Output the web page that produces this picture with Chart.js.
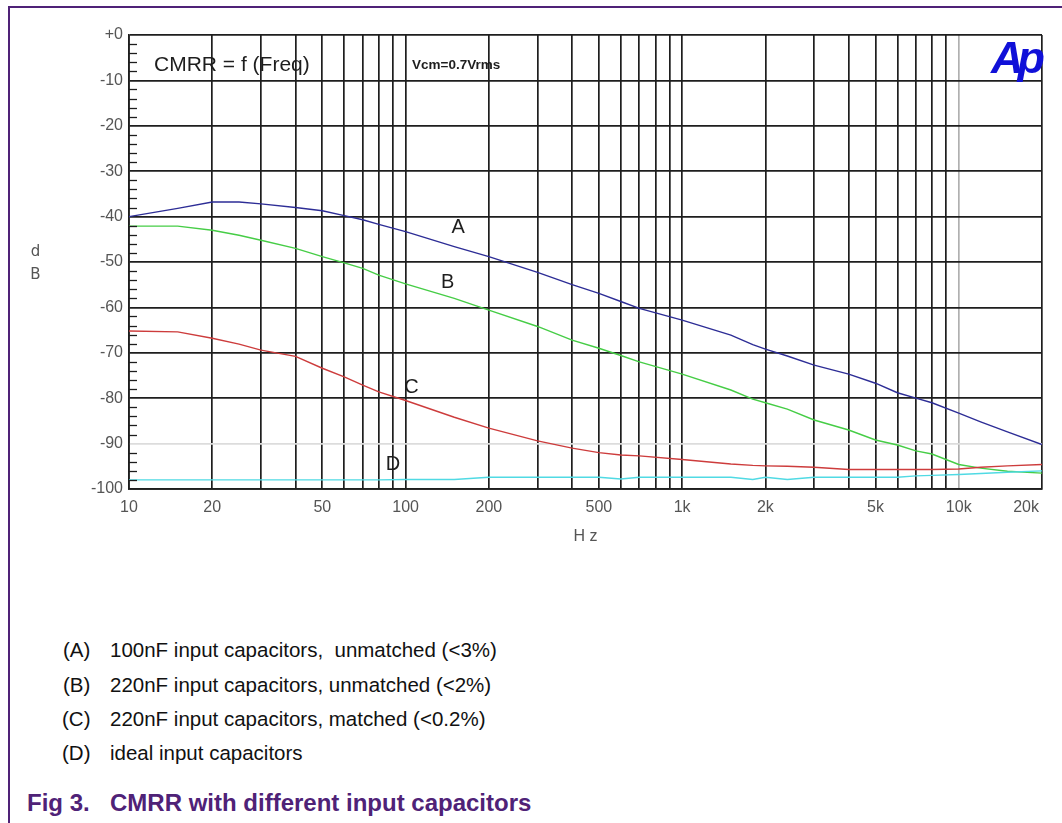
<!DOCTYPE html>
<html>
<head>
<meta charset="utf-8">
<script src="https://cdn.jsdelivr.net/npm/chart.js@4.4.1/dist/chart.umd.min.js"></script>
<style>
  html, body { margin: 0; padding: 0; background: #fff; }
  body { width: 1062px; height: 823px; position: relative; overflow: hidden; font-family: "Liberation Sans", Arial, sans-serif; }
  #frame { position: absolute; left: 8px; top: 6px; width: 1100px; height: 900px; border-left: 2px solid #4f2277; border-top: 2px solid #4f2277; }
  #wrap { position: absolute; left: 0; top: 0; width: 1062px; height: 560px; }
  .row { position: absolute; font-size: 20.5px; line-height: 20px; color: #111; white-space: pre; }
  .cap { position: absolute; font-size: 24px; line-height: 24px; font-weight: bold; color: #4f2277; white-space: pre; }
</style>
</head>
<body>
<div id="frame"></div>
<div id="wrap"><canvas id="cmrrChart"></canvas></div>

<div class="row" style="left:63px; top:640px;">(A)</div>
<div class="row" style="left:110px; top:640px;">100nF input capacitors,  unmatched (&lt;3%)</div>
<div class="row" style="left:63px; top:675px;">(B)</div>
<div class="row" style="left:110px; top:675px;">220nF input capacitors, unmatched (&lt;2%)</div>
<div class="row" style="left:62px; top:709px;">(C)</div>
<div class="row" style="left:110px; top:709px;">220nF input capacitors, matched (&lt;0.2%)</div>
<div class="row" style="left:62px; top:743px;">(D)</div>
<div class="row" style="left:110px; top:743px;">ideal input capacitors</div>
<div class="cap" style="left:27px; top:791px;">Fig 3.</div>
<div class="cap" style="left:110px; top:791px;">CMRR with different input capacitors</div>

<script>
// frequency points (Hz)
const freqHz = [10, 15, 20, 25, 30, 40, 50, 60, 70, 80, 100, 150, 200, 300, 400, 500, 600, 700,
    1000, 1500, 1800, 2000, 2400, 3000, 4000, 5000, 6000, 7000, 8000, 10000, 12000, 15000, 20000];

// CMRR in dB
const curveA = [-40, -38.2, -36.8, -36.8, -37.2, -38, -38.7, -39.8, -40.7, -41.7, -43.3, -46.6, -48.8, -52.3, -55, -56.9, -58.7, -60.2,
    -62.8, -66.1, -68.2, -69.2, -70.7, -72.7, -74.7, -76.7, -78.8, -80, -81, -83.3, -85.2, -87.4, -90.2];
const curveB = [-42.1, -42.1, -43, -44.1, -45.2, -47, -48.8, -50.2, -51.4, -52.9, -54.8, -58, -60.6, -64.2, -67.2, -69, -70.6, -72,
    -74.7, -78.2, -80.2, -81, -82.4, -84.8, -87, -89.2, -90.3, -91.6, -92.3, -94.6, -95.4, -96.1, -96.5];
const curveC = [-65.2, -65.4, -66.8, -68.1, -69.4, -70.8, -73.4, -75.3, -77.1, -78.6, -80.5, -84.2, -86.6, -89.4, -91, -92, -92.5, -92.7,
    -93.5, -94.5, -94.8, -94.9, -95, -95.2, -95.7, -95.7, -95.7, -95.7, -95.7, -95.6, -95.2, -94.9, -94.6];
const curveD = [-98, -98, -98, -98, -98, -98, -98, -98, -98, -98, -97.9, -97.9, -97.4, -97.4, -97.4, -97.4, -97.8, -97.4,
    -97.4, -97.4, -97.9, -97.4, -97.9, -97.4, -97.4, -97.4, -97.4, -97.1, -97, -96.8, -96.6, -96.3, -96];

// x grid lines and labelled ticks
const xGridTicks = [10, 20, 30, 40, 50, 60, 70, 80, 90, 100, 200, 300, 400, 500, 600, 700, 800, 900,
    1000, 2000, 3000, 4000, 5000, 6000, 7000, 8000, 9000, 10000, 20000];
const xTickValues = [10, 20, 50, 100, 200, 500, 1000, 2000, 5000, 10000, 20000];
const xTickLabels = ['10', '20', '50', '100', '200', '500', '1k', '2k', '5k', '10k', '20k'];

// curve letters, anchored in data units
const curveNames = ['A', 'B', 'C', 'D'];
const nameFreq = [155, 142, 105, 90];
const nameDb = [-42.4, -54.6, -77.7, -94.5];

const gridColor = '#1e1e1e';
const axisFont = { family: 'Liberation Sans', size: 16 };

function toPoints(vals) {
    return freqHz.map((f, i) => ({ x: f, y: vals[i] }));
}

const decorPlugin = {
    id: 'decor',
    afterDraw(chart) {
        const { ctx, chartArea: a, scales: { x, y } } = chart;
        ctx.save();

        // small dB ticks on the left edge
        ctx.strokeStyle = gridColor;
        ctx.lineWidth = 1.3;
        for (let v = -2; v > -100; v -= 2) {
            if (v % 10 === 0) continue;
            const py = Math.round(y.getPixelForValue(v)) + 0.5;
            ctx.beginPath();
            ctx.moveTo(a.left, py);
            ctx.lineTo(a.left + 8, py);
            ctx.stroke();
        }

        // frequency labels
        ctx.fillStyle = '#555';
        ctx.font = '16px "Liberation Sans"';
        ctx.textBaseline = 'alphabetic';
        xTickValues.forEach((v, i) => {
            const last = i === xTickValues.length - 1;
            ctx.textAlign = last ? 'right' : 'center';
            const px = last ? a.right - 3 : x.getPixelForValue(v);
            ctx.fillText(xTickLabels[i], px, a.bottom + 22.5);
        });

        // dB unit, stacked
        ctx.textAlign = 'center';
        ctx.font = '15px "DejaVu Sans"';
        ctx.fillText('d', 35.5, 256);
        ctx.fillText('B', 35.5, 278.5);

        // curve letters
        ctx.fillStyle = '#1e1e1e';
        ctx.font = '20px "Liberation Sans"';
        ctx.textBaseline = 'middle';
        curveNames.forEach((n, i) => {
            ctx.fillText(n, x.getPixelForValue(nameFreq[i]), y.getPixelForValue(nameDb[i]));
        });

        // titles inside the plot
        ctx.textAlign = 'left';
        ctx.textBaseline = 'alphabetic';
        ctx.font = '21px "Liberation Sans"';
        ctx.fillText('CMRR = f (Freq)', 154, 71);
        ctx.font = 'bold 13.5px "Liberation Sans"';
        ctx.fillText('Vcm=0.7Vrms', 412, 69);

        ctx.fillStyle = '#1010d8';
        ctx.font = 'italic bold 45px "Liberation Sans"';
        ctx.textAlign = 'right';
        ctx.letterSpacing = '-6px';
        ctx.fillText('Ap', 1039, 73);
        ctx.restore();
    }
};

new Chart(document.getElementById('cmrrChart'), {
    type: 'line',
    data: {
        datasets: [
            { label: 'D', data: toPoints(curveD), borderColor: 'rgb(80, 218, 228)' },
            { label: 'C', data: toPoints(curveC), borderColor: 'rgb(205, 60, 60)' },
            { label: 'B', data: toPoints(curveB), borderColor: 'rgb(70, 205, 70)' },
            { label: 'A', data: toPoints(curveA), borderColor: 'rgb(45, 45, 150)' }
        ].map(d => Object.assign(d, { borderWidth: 1.4, pointRadius: 0, tension: 0, fill: false }))
    },
    options: {
        responsive: true,
        maintainAspectRatio: false,
        animation: false,
        layout: { padding: { left: 40, top: 35, right: 20, bottom: 0 } },
        plugins: {
            legend: { display: false },
            tooltip: { enabled: false }
        },
        scales: {
            x: {
                type: 'logarithmic',
                min: 10,
                max: 20000,
                afterBuildTicks: s => { s.ticks = xGridTicks.map(v => ({ value: v })); },
                afterFit: s => { s.height = 71; },
                ticks: { display: false },
                grid: {
                    drawTicks: false,
                    lineWidth: 1.7,
                    color: c => (c.tick && c.tick.value === 10000) ? '#b0b0b0' : gridColor
                },
                border: { color: gridColor, width: 1.7 },
                title: {
                    display: true,
                    text: 'H z',
                    color: '#555',
                    font: axisFont,
                    padding: { top: 0, bottom: 14 }
                }
            },
            y: {
                min: -100,
                max: 0,
                afterFit: s => { s.width = 89; },
                ticks: {
                    stepSize: 10,
                    padding: 6,
                    color: '#555',
                    font: axisFont,
                    callback: v => v === 0 ? '+0' : String(v)
                },
                grid: {
                    drawTicks: false,
                    lineWidth: 1.7,
                    color: c => (c.tick && c.tick.value === -90) ? '#dcdcdc' : gridColor
                },
                border: { color: gridColor, width: 1.7 }
            }
        }
    },
    plugins: [decorPlugin]
});
</script>
</body>
</html>
